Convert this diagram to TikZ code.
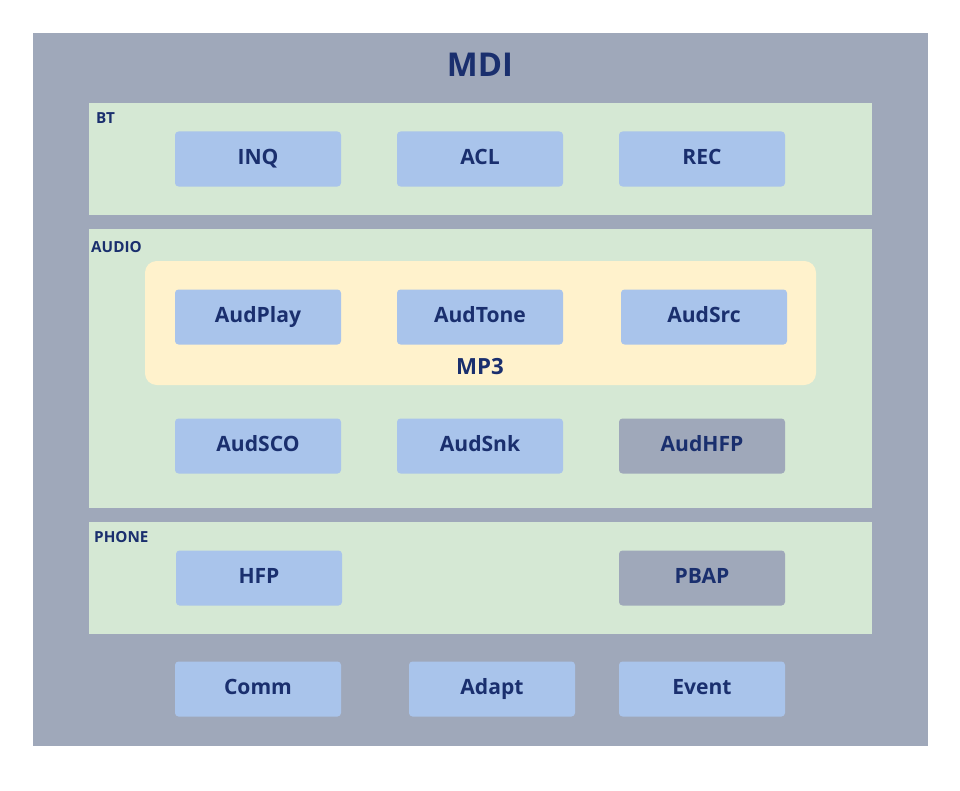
\documentclass[tikz,border=0pt]{standalone}
\usepackage{fontspec}
\setmainfont{Open Sans}
\definecolor{frame}{HTML}{9FA8BA}
\definecolor{layer}{HTML}{D5E8D4}
\definecolor{mpy}{HTML}{FFF2CC}
\definecolor{mod}{HTML}{A9C4EB}
\definecolor{ink}{HTML}{1A2F6E}
\begin{document}
\begin{tikzpicture}[x=0.03cm, y=-0.03cm,
  mod/.style={fill=mod,rounded corners=3pt,minimum width=166*0.03cm,
    minimum height=55*0.03cm,inner sep=0pt,text height=13pt,text depth=3pt,
    font=\bfseries\fontsize{18}{20}\selectfont,text=ink},
  off/.style={mod,fill=frame},
  tag/.style={anchor=north west,inner sep=0pt,font=\bfseries\fontsize{13}{15}\selectfont,text=ink}]
  \useasboundingbox (0,0) rectangle (960,790);
  \fill[frame] (33,33) rectangle (928,746);
  \node[font=\bfseries\fontsize{28}{30}\selectfont,text=ink] (mdi) at (480,65) {MDI};
  % layers
  \fill[layer] (89,103) rectangle (872,215);
  \fill[layer] (89,229) rectangle (872,508);
  \fill[layer] (89,522) rectangle (872,634);
  \node[tag] (bt) at (96,112) {BT};
  \node[tag] (audio) at (91,241) {AUDIO};
  \node[tag] (phone) at (94,531) {PHONE};
  \fill[mpy,rounded corners=10pt] (145,261) rectangle (816,385);
  \node[font=\bfseries\fontsize{19}{21}\selectfont,text=ink] (mp3) at (480,367) {MP3};
  % modules
  \node[mod] (inq) at (258,159) {INQ};
  \node[mod] (acl) at (480,159) {ACL};
  \node[mod] (rec) at (702,159) {REC};
  \node[mod] (play) at (258,317) {AudPlay};
  \node[mod] (tone) at (480,317) {AudTone};
  \node[mod] (src) at (704,317) {AudSrc};
  \node[mod] (sco) at (258,446) {AudSCO};
  \node[mod] (snk) at (480,446) {AudSnk};
  \node[off] (ahfp) at (702,446) {AudHFP};
  \node[mod] (hfp) at (259,578) {HFP};
  \node[off] (pbap) at (702,578) {PBAP};
  \node[mod] (comm) at (258,689) {Comm};
  \node[mod] (adapt) at (492,689) {Adapt};
  \node[mod] (event) at (702,689) {Event};
\end{tikzpicture}
\end{document}
